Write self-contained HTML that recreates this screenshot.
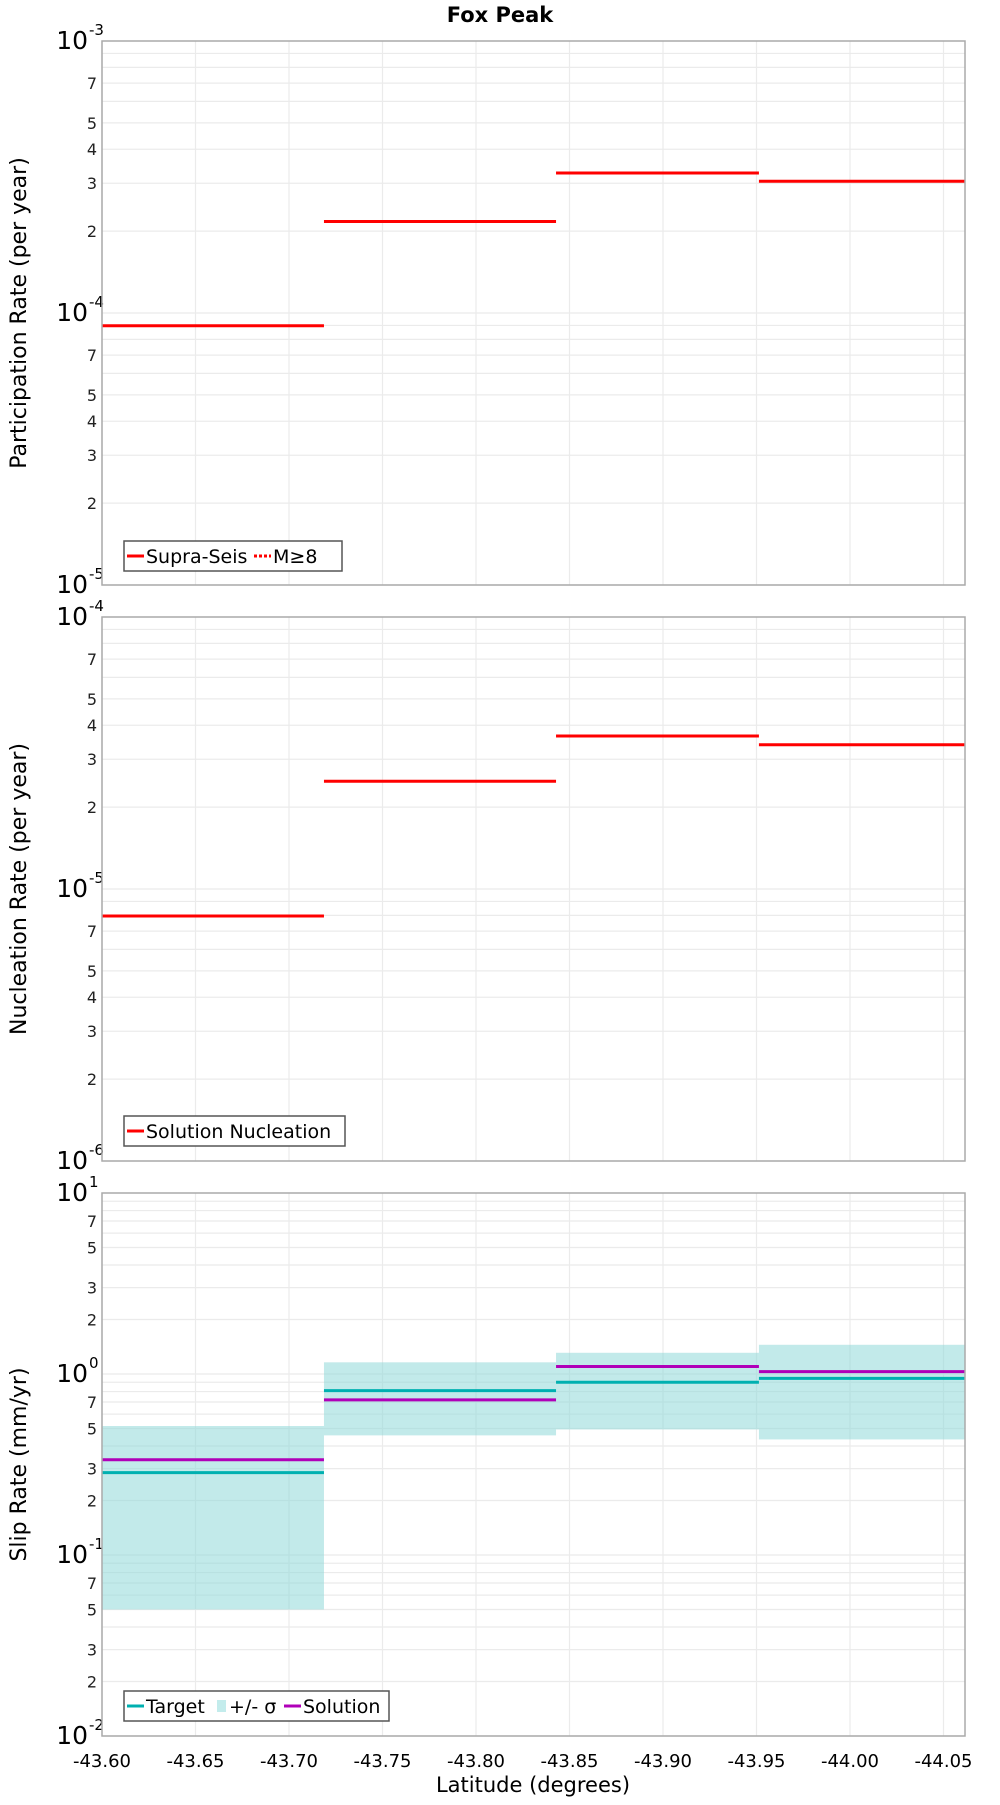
<!DOCTYPE html>
<html><head><meta charset="utf-8"><style>
html,body{margin:0;padding:0;background:#fff;}
svg text{font-family:"DejaVu Sans","Liberation Sans",sans-serif;}
</style></head><body>
<svg id="chart" width="1000" height="1800" viewBox="0 0 1000 1800" xmlns="http://www.w3.org/2000/svg">
<text x="500" y="22" text-anchor="middle" font-size="21" font-weight="bold">Fox Peak</text>
<text x="533" y="1792" text-anchor="middle" font-size="21">Latitude (degrees)</text>
</svg>
<script>
// ---- data ----
const segEdges = [-43.600, -43.7187, -43.8428, -43.9513, -44.0615];
const xTicks = [-43.60, -43.65, -43.70, -43.75, -43.80, -43.85, -43.90, -43.95, -44.00, -44.05];
const xTickLabels = ["-43.60","-43.65","-43.70","-43.75","-43.80","-43.85","-43.90","-43.95","-44.00","-44.05"];
const participation = [8.98e-5, 2.17e-4, 3.27e-4, 3.05e-4];
const nucleation = [7.96e-6, 2.49e-5, 3.65e-5, 3.39e-5];
const slipTarget = [0.285, 0.81, 0.90, 0.946];
const slipSolution = [0.336, 0.72, 1.10, 1.03];
const slipUpper = [0.516, 1.16, 1.31, 1.45];
const slipLower = [0.050, 0.458, 0.494, 0.435];

const NS = "http://www.w3.org/2000/svg";
const svg = document.getElementById('chart');
const X0 = 102, X1 = 965, LAT0 = -43.6, LAT1 = -44.0615;
function xs(v){ return X0 + (v - LAT0) / (LAT1 - LAT0) * (X1 - X0); }
function mk(tag, attrs, parent){
  const e = document.createElementNS(NS, tag);
  for (const k in attrs) e.setAttribute(k, attrs[k]);
  (parent || svg).appendChild(e);
  return e;
}

function panel(name, top, bottom, dmin, dmax, minorLabels, title){
  const g = mk('g', {});
  
  
  const ys = v => bottom - (Math.log10(v) - dmin) / (dmax - dmin) * (bottom - top);
  for (let d = dmin; d < dmax; d++) {
    for (let m = 1; m <= 9; m++) {
      const v = m * Math.pow(10, d);
      const y = ys(v);
      const ln = mk('line', {x1:X0, x2:X1, y1:y, y2:y, stroke:'#ebebeb', 'stroke-width':1.2}, g);
      
      
      if (m > 1 && minorLabels.indexOf(m) >= 0) {
        const t = mk('text', {x:97, y:y+6, 'text-anchor':'end', 'font-size':16, fill:'#222'}, g);
        t.textContent = String(m);
        
        
      }
    }
  }
  xTicks.forEach(v => {
    const x = xs(v);
    const ln = mk('line', {x1:x, x2:x, y1:top, y2:bottom, stroke:'#ebebeb', 'stroke-width':1.2}, g);
    
    
  });
  for (let d = dmin; d <= dmax; d++) {
    const y = ys(Math.pow(10, d));
    const t = mk('text', {x:88, y:y+8, 'text-anchor':'end', 'font-size':25, fill:'#000'}, g);
    t.textContent = '10';
    
    
    const s = mk('text', {x:89, y:y-6, 'text-anchor':'start', 'font-size':15, fill:'#000'}, g);
    s.textContent = String(d);
    
    
  }
  const at = mk('text', {x:0, y:0, 'text-anchor':'middle', 'font-size':22, transform:'translate(26,'+((top+bottom)/2)+') rotate(-90)'}, g);
  at.textContent = title;
  
  
  return {g, ys, top, bottom};
}

function frame(p){
  const r = mk('rect', {x:X0, y:p.top, width:X1-X0, height:p.bottom-p.top, fill:'none', stroke:'#aaa', 'stroke-width':1.5}, p.g);
  
  
}

function steps(p, vals, color, name){
  vals.forEach((v, i) => {
    const y = p.ys(v);
    const ln = mk('line', {x1:xs(segEdges[i]), x2:xs(segEdges[i+1]), y1:y, y2:y, stroke:color, 'stroke-width':3}, p.g);
    
    
  });
}

function legend(p, x, y, w, items){
  const lg = mk('g', {}, p.g);
  
  
  mk('rect', {x:x, y:y, width:w, height:30, fill:'#fff', stroke:'#555', 'stroke-width':1.5}, lg);
  let cx = x + 3;
  items.forEach(it => {
    if (it.type === 'box') {
      mk('rect', {x:cx+3, y:y+9, width:9, height:12, fill:'#c3ecec'}, lg);
      cx += 15;
    } else {
      mk('line', {x1:cx, x2:cx+17, y1:y+15, y2:y+15, stroke:it.color, 'stroke-width':3, 'stroke-dasharray': it.dash || 'none'}, lg);
      cx += 19;
    }
    const t = mk('text', {x:cx, y:y+22, 'font-size':19, fill:'#000'}, lg);
    t.textContent = it.label;
    
    
    cx += it.w;
  });
}

const p1 = panel('participation-panel', 41, 585, -5, -3, [2,3,4,5,7], 'Participation Rate (per year)');
steps(p1, participation, '#ff0000', 'participation');
frame(p1);
legend(p1, 124, 541, 218, [{color:'#f00', label:'Supra-Seis', w:108},{color:'#f00', dash:'3,2', label:'M≥8', w:50}]);

const p2 = panel('nucleation-panel', 617, 1161, -6, -4, [2,3,4,5,7], 'Nucleation Rate (per year)');
steps(p2, nucleation, '#ff0000', 'nucleation');
frame(p2);
legend(p2, 124, 1116, 221, [{color:'#f00', label:'Solution Nucleation', w:196}]);

const p3 = panel('slip-rate-panel', 1193, 1736, -2, 1, [2,3,5,7], 'Slip Rate (mm/yr)');
slipUpper.forEach((u, i) => {
  const yt = p3.ys(u), yb = p3.ys(slipLower[i]);
  const r = mk('rect', {x:xs(segEdges[i]), y:yt, width:xs(segEdges[i+1])-xs(segEdges[i]), height:yb-yt, fill:'#8fd9d9', 'fill-opacity':0.55}, p3.g);
  
  
});
steps(p3, slipTarget, '#00b0b0', 'target');
steps(p3, slipSolution, '#b000b8', 'solution');
frame(p3);
legend(p3, 124, 1691, 265, [{color:'#00b0b0', label:'Target', w:68},{type:'box', label:'+/- σ', w:55},{color:'#b000b8', label:'Solution', w:84}]);

xTicks.forEach((v, i) => {
  const t = mk('text', {x:xs(v), y:1767, 'text-anchor':'middle', 'font-size':18, fill:'#000'});
  t.textContent = xTickLabels[i];
  
  
});
</script>
</body></html>
